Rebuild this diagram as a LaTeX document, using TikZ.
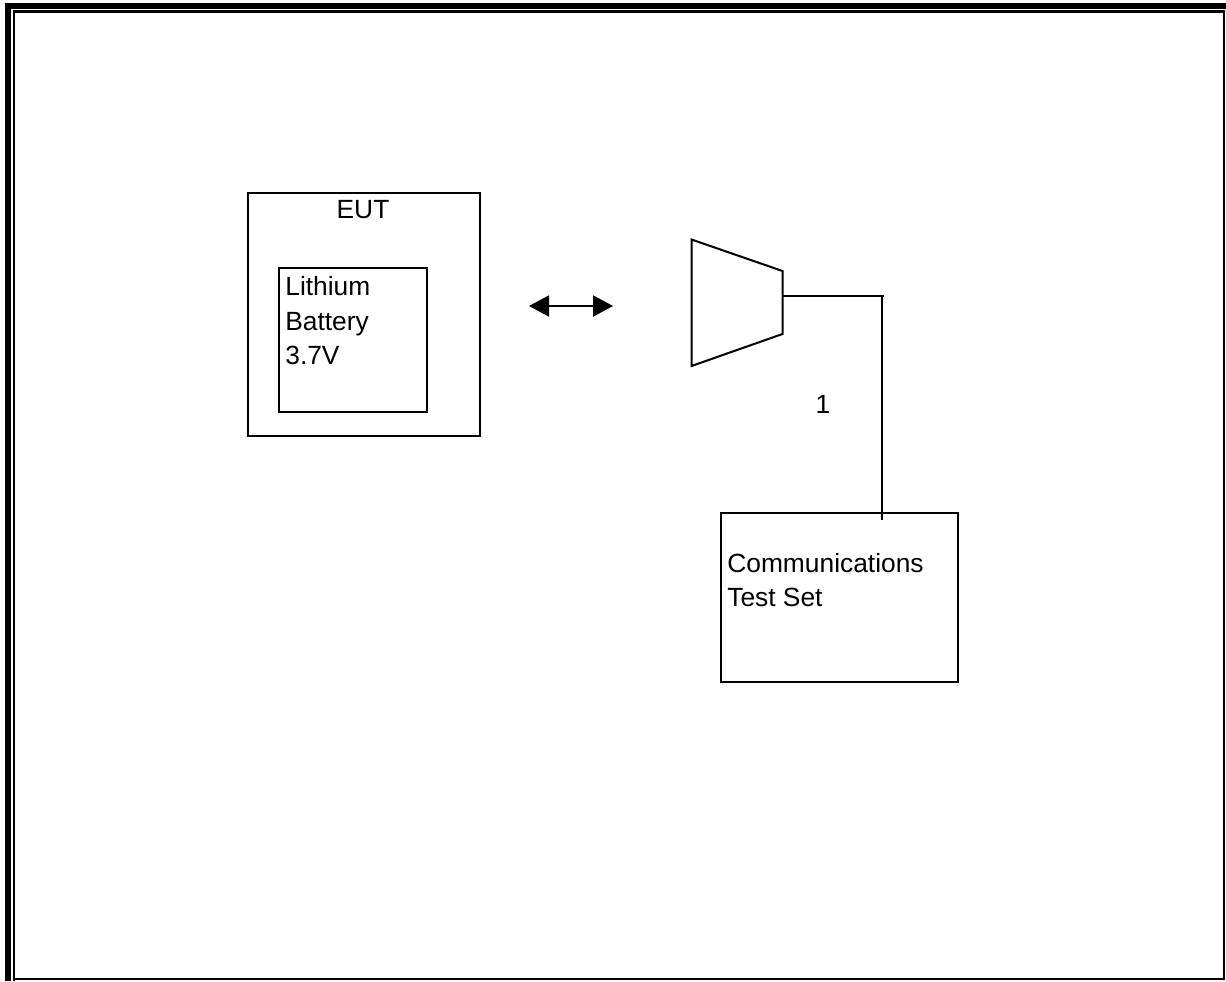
\documentclass[tikz,border=0pt]{standalone}
\usepackage{fontspec}
\setmainfont{Liberation Sans}
\usetikzlibrary{arrows.meta,positioning}
\tikzset{
  box/.style={draw, line width=1.15pt, inner sep=0pt},
  wire/.style={line width=1.15pt},
  lbl/.style={inner sep=0pt, anchor=base west, font=\fontsize{15}{18}\selectfont}
}

\begin{document}
\begin{tikzpicture}[x=0.02cm, y=-0.02cm]
  \useasboundingbox (0,0) rectangle (1226,981);
  % page frame
  \draw[line width=3.4pt] (8,981) -- (8,6) -- (1226,6);
  \draw[line width=1.2pt] (14.2,981) -- (14.2,11.5) -- (1224.2,11.5) -- (1224.2,979) -- (14.2,979);
  % boxes
  \node[box, minimum width=4.65cm, minimum height=4.86cm] (eut) at (363.75,314.5) {};
  \node[box, minimum width=2.96cm, minimum height=2.88cm] (battery) at (353,340) {};
  \node[box, minimum width=4.74cm, minimum height=3.38cm] (testset) at (839.5,597.5) {};
  \node[lbl, anchor=base] (eutlbl) at (363,218) {EUT};
  \node[lbl] (batlbl1) at (285,295) {Lithium};
  \node[lbl] (batlbl2) at (285,330) {Battery};
  \node[lbl] (batlbl3) at (285,364) {3.7V};
  \node[lbl] (setlbl1) at (727,572) {Communications};
  \node[lbl] (setlbl2) at (727,606) {Test Set};
  \node[lbl, anchor=base] (cablelbl) at (823,413) {1};
  % antenna
  \coordinate (hornport) at (782.5,296);
  \coordinate (hornend) at (884,296);
  \coordinate (cabletop) at (881.5,296);
  \coordinate (cableend) at (881.5,520);
  \coordinate (arrowl) at (529,306);
  \coordinate (arrowr) at (613,306);
  \draw[wire] (691.5,239.5) -- (782.5,271) -- (782.5,334) -- (691.5,366) -- cycle;
  \draw[wire] (hornport) -- (hornend);
  \draw[wire] (cabletop) -- (cableend);
  \draw[wire, {Triangle[length=0.4cm,width=0.42cm]}-{Triangle[length=0.4cm,width=0.42cm]}] (arrowl) -- (arrowr);
\end{tikzpicture}
\end{document}
